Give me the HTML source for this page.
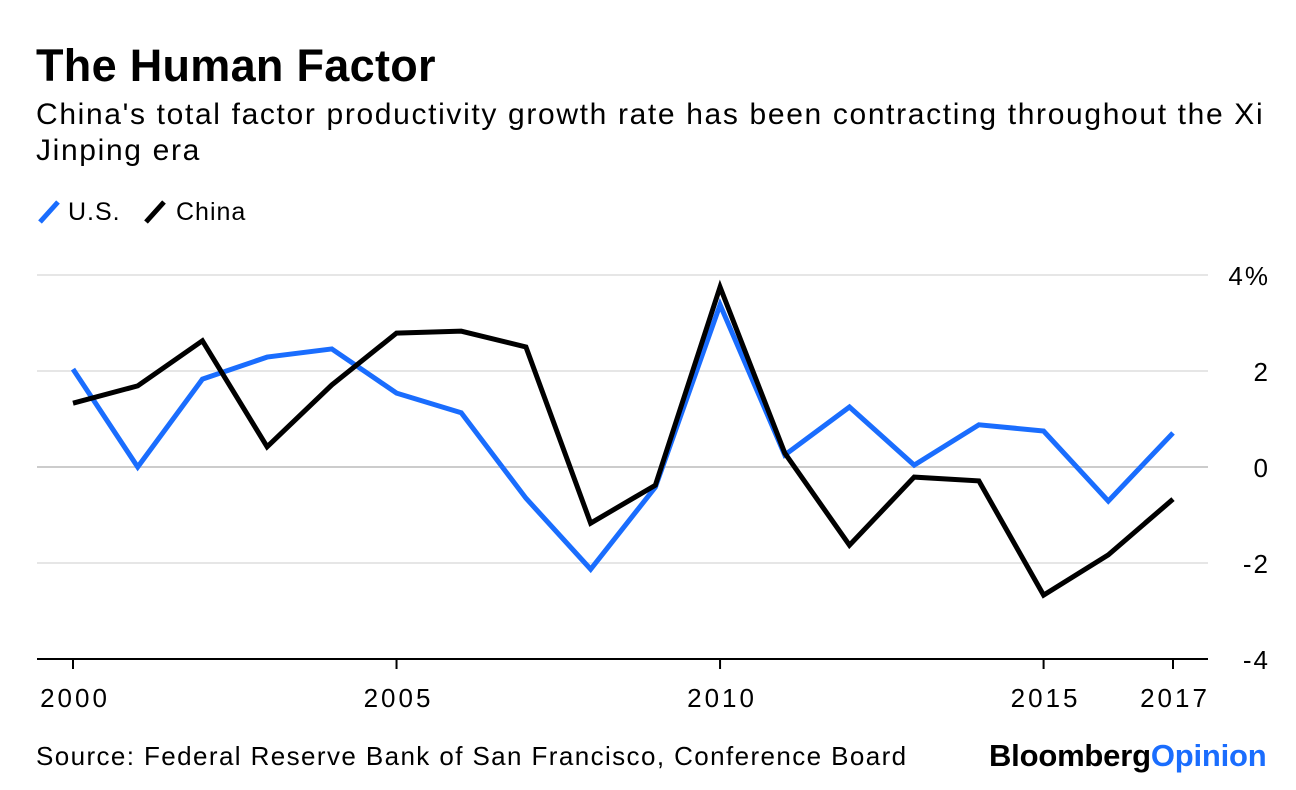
<!DOCTYPE html>
<html><head><meta charset="utf-8"><style>
body{margin:0;background:#fff;font-family:"Liberation Sans",Arial,sans-serif;}
#wrap{position:relative;width:1296px;height:790px;overflow:hidden;}
.t{position:absolute;white-space:nowrap;color:#000;}
</style></head><body>
<div id="wrap">
<div class="t" style="left:36px;top:40px;font-size:45px;font-weight:bold;letter-spacing:0.3px">The Human Factor</div>
<div class="t" style="left:36px;top:97px;font-size:30px;line-height:36px;letter-spacing:1.65px;white-space:normal;width:1250px">China's total factor productivity growth rate has been contracting throughout the Xi Jinping era</div>
<svg width="1296" height="790" style="position:absolute;left:0;top:0" id="svg">
<g>
<line x1="40" y1="222" x2="58" y2="202" stroke="#1a6dfe" stroke-width="5"/>
<text x="68" y="220" font-size="25" letter-spacing="1" font-family="Liberation Sans">U.S.</text>
<line x1="146" y1="222" x2="164" y2="202" stroke="#000" stroke-width="5"/>
<text x="176" y="220" font-size="25" letter-spacing="1" font-family="Liberation Sans">China</text>
</g>
<g id="grid"></g><g id="lines"></g>
</svg>
<div class="t" style="left:36px;top:741px;font-size:26px;letter-spacing:1.4px">Source: Federal Reserve Bank of San Francisco, Conference Board</div>
<div class="t" style="left:989px;top:738px;font-size:31px;font-weight:bold;letter-spacing:-0.2px">Bloomberg<span style="color:#1a6dfe">Opinion</span></div>
</div>
<script>
const years=[2000,2001,2002,2003,2004,2005,2006,2007,2008,2009,2010,2011,2012,2013,2014,2015,2016,2017];
const usValues=[2.04,0,1.83,2.29,2.46,1.54,1.13,-0.65,-2.13,-0.42,3.38,0.25,1.25,0.04,0.88,0.75,-0.71,0.71];
const chinaValues=[1.33,1.69,2.63,0.42,1.71,2.79,2.83,2.5,-1.17,-0.38,3.75,0.29,-1.63,-0.21,-0.29,-2.67,-1.83,-0.67];
const yTicks=[4,2,0,-2,-4];
const yTickLabels=["4%","2","0","-2","-4"];
const xTicks=[2000,2005,2010,2015,2017];
const NS="http://www.w3.org/2000/svg";
const X=v=>73+(v-2000)*(1173-73)/17;
const Y=v=>467-v*48;
const grid=document.getElementById('grid'),lines=document.getElementById('lines');
function mk(tag,attrs,parent){const e=document.createElementNS(NS,tag);for(const k in attrs)e.setAttribute(k,attrs[k]);parent.appendChild(e);return e;}
yTicks.forEach((v,i)=>{
 if(v!==-4){const l=mk('line',{x1:37,x2:1208,y1:Y(v),y2:Y(v),stroke:v===0?'#cccccc':'#e6e6e6','stroke-width':2},grid);
 
 }
 const t=mk('text',{x:1270,y:Y(v)+10,'font-size':26,'letter-spacing':2,'font-family':'Liberation Sans','text-anchor':'end'},grid);
 t.textContent=yTickLabels[i];
 
 
});
const base=mk('line',{x1:37,x2:1208,y1:Y(-4),y2:Y(-4),stroke:'#000','stroke-width':2},grid);


xTicks.forEach(v=>{
 const tk=mk('line',{x1:X(v),x2:X(v),y1:Y(-4),y2:Y(-4)+10,stroke:'#000','stroke-width':2},grid);
 
 
 const t=mk('text',{x:X(v)+2,y:707,'font-size':26,'letter-spacing':3,'font-family':'Liberation Sans','text-anchor':'middle'},grid);
 t.textContent=v;
 
 
});
function series(vals,color,name){
 const p=mk('polyline',{points:vals.map((v,i)=>X(years[i])+','+Y(v)).join(' '),fill:'none',stroke:color,'stroke-width':5,'stroke-linejoin':'miter'},lines);
 
 
}
series(usValues,'#1a6dfe','us-line');
series(chinaValues,'#000','china-line');
</script>
</body></html>
